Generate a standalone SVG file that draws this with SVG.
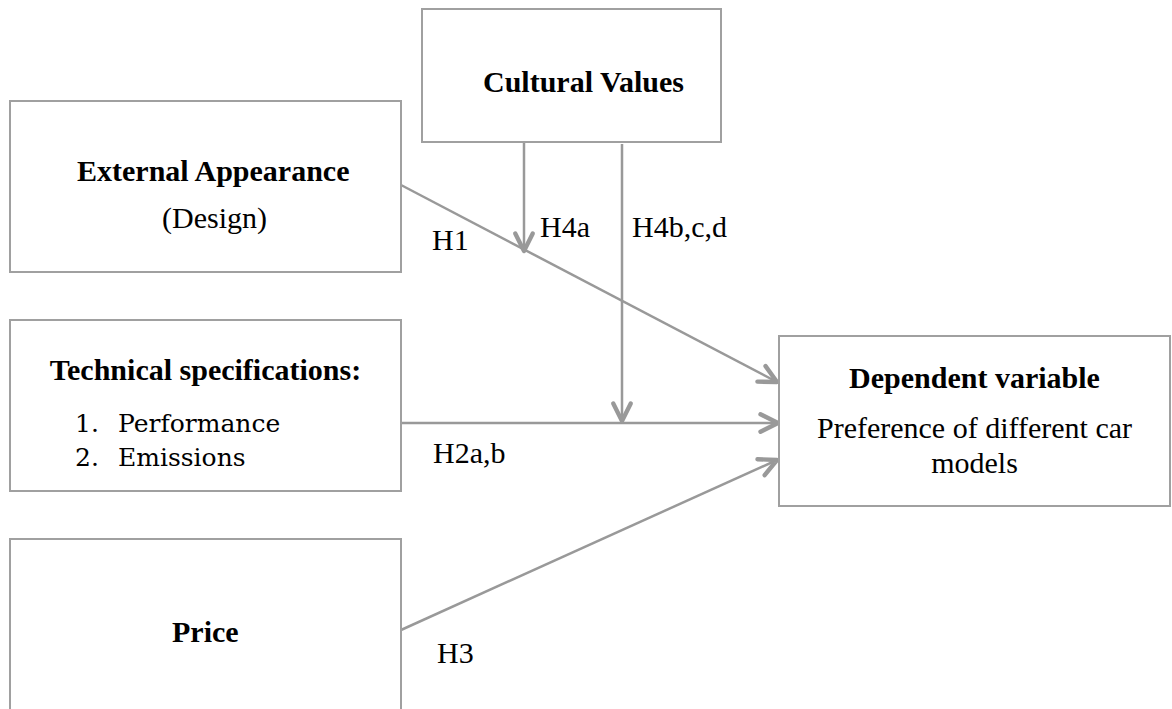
<svg xmlns="http://www.w3.org/2000/svg" width="1172" height="709" viewBox="0 0 1172 709">
<style>
.box{fill:#fff;stroke:#a0a0a0;stroke-width:2}
.t{font-family:"Liberation Serif","Times New Roman",serif;font-size:30px;fill:#000}
.b{font-weight:bold}
.lst{font-family:"DejaVu Serif",serif;font-size:25px;fill:#000}
.ln{stroke:#999;stroke-width:2.5;fill:none}
</style>
<defs>
<marker id="arr" markerUnits="userSpaceOnUse" markerWidth="30" markerHeight="30" viewBox="-20 -12 24 24" refX="0" refY="0" orient="auto">
<path d="M -14 -7 L 0 0 L -14 7" fill="none" stroke="#999" stroke-width="3.5" stroke-linecap="round" stroke-linejoin="round"/>
</marker>
</defs>
<rect width="1172" height="709" fill="#fff"/>
<g id="connectors">
<line class="ln" x1="401" y1="185" x2="777" y2="382" marker-end="url(#arr)"/>
<line class="ln" x1="401" y1="423" x2="778" y2="423" marker-end="url(#arr)"/>
<line class="ln" x1="401" y1="630" x2="777" y2="460" marker-end="url(#arr)"/>
<line class="ln" x1="524" y1="142" x2="524" y2="251" marker-end="url(#arr)"/>
<line class="ln" x1="622" y1="144" x2="622" y2="421" marker-end="url(#arr)"/>
<text class="t" x="432" y="250">H1</text>
<text class="t" x="540" y="237">H4a</text>
<text class="t" x="632" y="237">H4b,c,d</text>
<text class="t" x="433" y="463">H2a,b</text>
<text class="t" x="437" y="663">H3</text>
</g>
<g id="cultural">
<rect class="box" x="422" y="9" width="299" height="133"/>
<text class="t b" x="483" y="92">Cultural Values</text>
</g>
<g id="external">
<rect class="box" x="10" y="101" width="391" height="171"/>
<text class="t b" x="77" y="181">External Appearance</text>
<text class="t" x="162" y="228">(Design)</text>
</g>
<g id="technical">
<rect class="box" x="10" y="320" width="391" height="171"/>
<text class="t b" x="205.5" y="380" text-anchor="middle">Technical specifications:</text>
<text class="lst" x="75" y="432">1.</text>
<text class="lst" x="118" y="432">Performance</text>
<text class="lst" x="75" y="466">2.</text>
<text class="lst" x="118" y="466">Emissions</text>
</g>
<g id="price">
<rect class="box" x="10" y="539" width="391" height="190"/>
<text class="t b" x="172" y="642">Price</text>
</g>
<g id="dependent">
<rect class="box" x="779" y="336" width="391" height="170"/>
<text class="t b" x="974.5" y="388" text-anchor="middle">Dependent variable</text>
<text class="t" x="974.5" y="438" text-anchor="middle">Preference of different car</text>
<text class="t" x="974.5" y="473" text-anchor="middle">models</text>
</g>
</svg>
